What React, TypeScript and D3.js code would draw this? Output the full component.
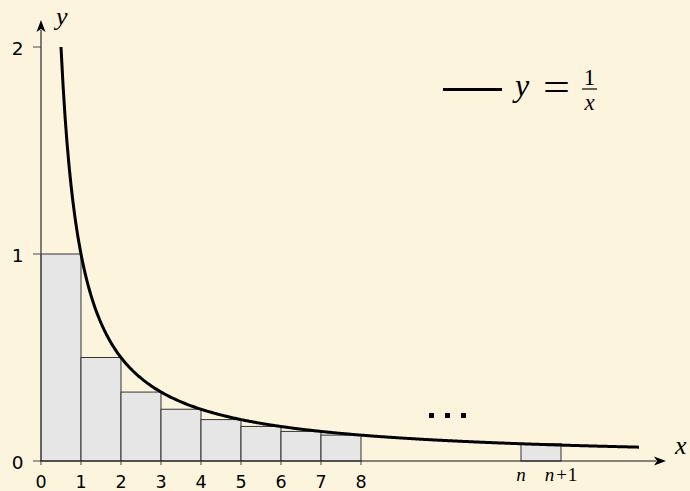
import React from "react";
import * as d3 from "d3";

// bars under 1/x: left edge k, height 1/(k+1)
const barStarts = [0, 1, 2, 3, 4, 5, 6, 7];
const barHeights = [1, 0.5, 0.333, 0.25, 0.2, 0.167, 0.143, 0.125];
// the lone bar from n to n+1 far out on the axis
const tailStart = 12;
const tailHeight = 0.083;

const xTicks = [0, 1, 2, 3, 4, 5, 6, 7, 8];
const yTicks = [0, 1, 2];

const curveFrom = 0.5;
const curveTo = 14.95;

const W = 690;
const H = 491;
const bg = "#fdf4de";

export default function App() {
  const x = d3.scaleLinear().domain([0, 15]).range([41, 641]);
  const y = d3.scaleLinear().domain([0, 2]).range([461, 47]);

  const pts = d3.range(curveFrom, curveTo, 0.05).concat([curveTo]);
  const line = d3
    .line<number>()
    .x((d) => x(d))
    .y((d) => y(1 / d))
    .curve(d3.curveMonotoneX);

  const serif = "'Liberation Serif', 'DejaVu Serif', serif";
  const sans = "'DejaVu Sans', sans-serif";

  return (
    <svg
      width={W}
      height={H}
      style={{ position: "absolute", left: 0, top: 0, background: bg }}
    >
      <rect width={W} height={H} fill={bg} />

      {barStarts.map((s, i) => (
        <rect
          key={i}
          x={x(s)}
          y={y(barHeights[i])}
          width={x(s + 1) - x(s)}
          height={y(0) - y(barHeights[i])}
          fill="#e6e6e6"
          stroke="#333"
          strokeWidth={1}
        />
      ))}
      <rect
        x={x(tailStart)}
        y={y(tailHeight)}
        width={x(tailStart + 1) - x(tailStart)}
        height={y(0) - y(tailHeight)}
        fill="#e6e6e6"
        stroke="#333"
        strokeWidth={1}
      />

      {/* y axis */}
      <line x1={x(0)} x2={x(0)} y1={y(0)} y2={30} stroke="#555" strokeWidth={1.5} />
      <path d={`M${x(0)},20 L${x(0) - 4.5},32 L${x(0)},29 L${x(0) + 4.5},32 Z`} fill="#000" />
      {yTicks.map((t) => (
        <g key={t}>
          <line x1={x(0) - 8} x2={x(0)} y1={y(t)} y2={y(t)} stroke="#444" strokeWidth={1} />
          <text
            x={23.5}
            y={y(t) + 8}
            textAnchor="end"
            fontFamily={sans}
            fontSize={18.5}
            fill="#000"
          >
            {t}
          </text>
        </g>
      ))}
      <text x={56} y={24.5} fontFamily={serif} fontStyle="italic" fontSize={26} fill="#000">
        y
      </text>

      {/* x axis */}
      <line x1={x(0) - 1} x2={656} y1={y(0)} y2={y(0)} stroke="#111" strokeWidth={1.2} />
      <path d={`M666,${y(0)} L654,${y(0) - 4.5} L657,${y(0)} L654,${y(0) + 4.5} Z`} fill="#000" />
      {xTicks.map((t) => (
        <g key={t}>
          <line x1={x(t)} x2={x(t)} y1={y(0)} y2={y(0) + 4} stroke="#444" strokeWidth={1} />
          <text
            x={x(t)}
            y={487.5}
            textAnchor="middle"
            fontFamily={sans}
            fontSize={17.5}
            fill="#000"
          >
            {t}
          </text>
        </g>
      ))}
      <text
        x={x(tailStart)}
        y={481}
        textAnchor="middle"
        fontFamily={serif}
        fontStyle="italic"
        fontSize={19}
        fill="#000"
      >
        n
      </text>
      <text
        x={x(tailStart + 1)}
        y={481}
        textAnchor="middle"
        fontFamily={serif}
        fontSize={19}
        fill="#000"
      >
        <tspan fontStyle="italic">n</tspan>
        <tspan dx={2}>+</tspan>
        <tspan dx={1}>1</tspan>
      </text>
      <text x={675} y={454} fontFamily={serif} fontStyle="italic" fontSize={26} fill="#000">
        x
      </text>

      {/* dots */}
      {[0, 1, 2].map((i) => (
        <rect key={i} x={429 + i * 16} y={413} width={5} height={5} fill="#000" />
      ))}

      {/* curve */}
      <path d={line(pts) ?? ""} fill="none" stroke="#000" strokeWidth={3} />

      {/* legend */}
      <line x1={443} x2={502} y1={89.5} y2={89.5} stroke="#000" strokeWidth={3} />
      <text x={515} y={96} fontFamily={serif} fontStyle="italic" fontSize={32} fill="#000">
        y
      </text>
      <text
        x={543}
        y={101}
        textLength={27}
        lengthAdjust="spacingAndGlyphs"
        fontFamily={serif}
        fontSize={40}
        fill="#000"
      >
        =
      </text>
      <text x={589.5} y={84.5} textAnchor="middle" fontFamily={serif} fontSize={23} fill="#000">
        1
      </text>
      <line x1={582} x2={597} y1={89} y2={89} stroke="#000" strokeWidth={1.2} />
      <text x={589.5} y={110} textAnchor="middle" fontFamily={serif} fontStyle="italic" fontSize={23} fill="#000">
        x
      </text>
    </svg>
  );
}
